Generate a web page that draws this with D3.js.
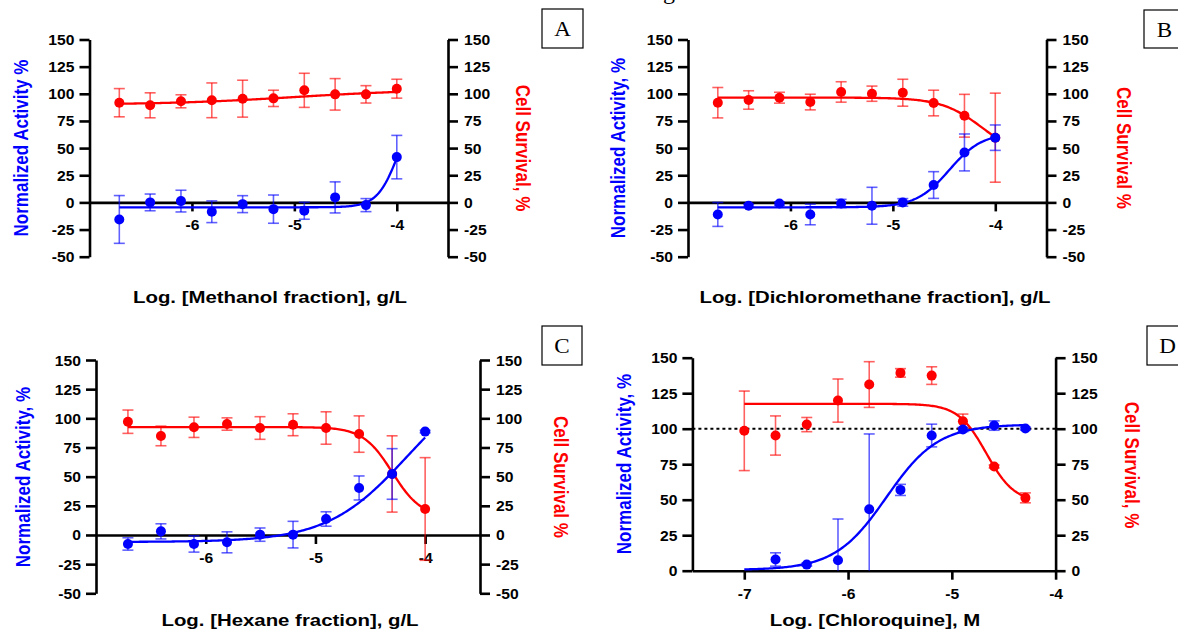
<!DOCTYPE html>
<html><head><meta charset="utf-8">
<script src="https://cdn.jsdelivr.net/npm/d3@7"></script>
<style>
body{margin:0;background:#fff;}
svg{display:block;}
</style></head><body>
<svg id="chart" width="1178" height="630"></svg>
<script>
// ---------- DATA ----------
const yTicks = [-50, -25, 0, 25, 50, 75, 100, 125, 150];
const yTicksD = [0, 25, 50, 75, 100, 125, 150];
const xTicks = [-6, -5, -4];
const xTicksD = [-7, -6, -5, -4];

// Panel A - Methanol fraction
const xA = [-6.709, -6.408, -6.107, -5.806, -5.505, -5.204, -4.903, -4.602, -4.301, -4.000];
const activityA = [-15.7, 0.0, 1.2, -8.6, -1.6, -6.2, -7.7, 4.6, -2.5, 41.7];
const activityErrA = [22, 7.7, 10, 10, 7.8, 13, 7.8, 14.3, 6, 20];
const survivalA = [91.8, 89.4, 93.1, 94.0, 95.5, 95.8, 103.2, 99.5, 99.5, 104.7];
const survivalErrA = [13, 11.5, 6, 16, 17, 7.5, 15.7, 14.5, 8, 8.7];
const fitActivityA = [-4.5, 100, -3.972, 4.11];   // bottom, top, logEC50, hill
const fitSurvivalA = [90, 104, -5.0, 0.7];

// Panel B - Dichloromethane fraction
const xB = [-6.709, -6.408, -6.107, -5.806, -5.505, -5.204, -4.903, -4.602, -4.301, -4.000];
const activityB = [-11.1, -3.1, -1.0, -11.1, -1.0, -3.1, 0.0, 16.0, 46.0, 59.6];
const activityErrB = [11, 1.5, 1.5, 9.5, 3.8, 17, 3.5, 12.3, 17, 11.7];
const survivalB = [91.8, 94.3, 96.4, 92.4, 101.7, 100.1, 101.0, 91.5, 79.8, 59.6];
const survivalErrB = [14, 8.5, 5, 7.2, 9.4, 7, 12.4, 11.8, 19.7, 41];
const fitActivityB = [-4.5, 64, -4.45, 2.7];
const fitSurvivalB = [40, 96.5, -4.12, -2.15];

// Panel C - Hexane fraction
const xC = [-6.709, -6.408, -6.107, -5.806, -5.505, -5.204, -4.903, -4.602, -4.301, -4.000];
const activityC = [-7.7, 3.1, -7.7, -6.3, 0.3, 0.3, 13.7, 40.3, 52.3, 88.6];
const activityErrC = [5.3, 6.5, 7, 9, 5.7, 11.4, 6.2, 10.3, 21.7, 1];
const survivalC = [97.1, 84.9, 92.3, 95.1, 91.7, 94.5, 91.7, 86.5, 52.3, 22.3];
const survivalErrC = [10, 8.4, 8.7, 5.3, 9.7, 9.4, 13.9, 15.6, 32.7, 44];
const fitActivityC = [-6, 140, -4.167, 1.2];
const fitSurvivalC = [15, 92.5, -4.3, -3.27];

// Panel D - Chloroquine
const xD = [-7.000, -6.699, -6.398, -6.097, -5.796, -5.495, -5.194, -4.893, -4.592, -4.291];
const activityD = [null, 7.9, 4.3, 7.4, 43.3, 56.9, 95.2, 99.4, 102.2, 100.1];
const activityErrD = [null, 4.7, 1, 29, 53, 3.9, 8, 1.5, 3.3, 1];
const survivalD = [98.5, 95.2, 102.9, 119.8, 131.1, 139.3, 137.4, 105.3, 73.4, 51.3];
const survivalErrD = [28, 13.8, 5, 15.2, 16.1, 3, 6.2, 5, 1, 3.5];
const fitActivityD = [0.5, 103, -5.63, 1.75];
const fitSurvivalD = [48, 117.5, -4.668, -3.2];
const refLineD = [100];

const letters = ["A", "B", "C", "D"];
const xTitles = ["Log. [Methanol fraction], g/L", "Log. [Dichloromethane fraction], g/L",
                 "Log. [Hexane fraction], g/L", "Log. [Chloroquine], M"];
const leftTitles = ["Normalized Activity %", "Normalized Activity, %", "Normalized Activity, %", "Normalized Activity, %"];
const rightTitles = ["Cell Survival, %", "Cell Survival %", "Cell Survival %", "Cell Survival, %"];

// ---------- DRAWING ----------
const FONT = "Arial, 'Liberation Sans', Helvetica, sans-serif";
const SERIF = "'Times New Roman', 'Liberation Serif', serif";
const SX_TICK = 1.12, SX_TITLE = 1.2;
const BLUE = "#0000ff", RED = "#ff0000";
const svg = d3.select("#chart");

function fourPL(p, x) {
  const [b, t, L, h] = p;
  return b + (t - b) / (1 + Math.pow(10, (L - x) * h));
}

function styleAxis(sel, orient) {
  sel.attr("font-family", FONT).attr("font-size", 14).attr("font-weight", "bold");
  sel.select(".domain").attr("stroke", "#000").attr("stroke-width", 2.6);
  sel.selectAll(".tick line").attr("stroke", "#000").attr("stroke-width", 2.6);
  const t = sel.selectAll(".tick text").attr("fill", "#000").attr("x", 0).attr("y", 0).attr("dy", 0);
  if (orient === "left") t.attr("transform", `translate(-15,5) scale(${SX_TICK},1)`);
  if (orient === "right") t.attr("transform", `translate(16,5) scale(${SX_TICK},1)`);
  if (orient === "bottom") t.attr("transform", `translate(0,28) scale(${SX_TICK},1)`);
}

function panel(cfg) {
  const g = svg.append("g");
  const x = d3.scaleLinear().domain(cfg.xDomain).range([cfg.x0, cfg.x1]);
  const y = d3.scaleLinear().domain(cfg.yDomain).range([cfg.yBot, cfg.yTop]);
  const fmt = d => String(d);

  // axes
  styleAxis(g.append("g").attr("transform", `translate(${cfg.x0},0)`)
    .call(d3.axisLeft(y).tickValues(cfg.yTicks).tickSize(10).tickSizeOuter(0).tickFormat(fmt)), "left");
  styleAxis(g.append("g").attr("transform", `translate(${cfg.x1},0)`)
    .call(d3.axisRight(y).tickValues(cfg.yTicks).tickSize(10).tickSizeOuter(0).tickFormat(fmt)), "right");
  const xAxisY = y(Math.max(0, cfg.yDomain[0]));
  styleAxis(g.append("g").attr("transform", `translate(0,${xAxisY})`)
    .call(d3.axisBottom(x).tickValues(cfg.xTicks).tickSize(9).tickSizeOuter(0).tickFormat(fmt)), "bottom");

  // reference line
  (cfg.refLine || []).forEach(v => {
    g.append("line").attr("x1", cfg.x0).attr("x2", cfg.x1).attr("y1", y(v)).attr("y2", y(v))
      .attr("stroke", "#000").attr("stroke-width", 2).attr("stroke-dasharray", "3,3");
  });

  const [ymin, ymax] = cfg.yDomain;
  const xStart = cfg.xs[0], xEnd = cfg.xs[cfg.xs.length - 1];
  const samples = d3.range(201).map(i => xStart + (xEnd - xStart) * i / 200);
  const line = d3.line().x(d => x(d[0])).y(d => y(d[1])).curve(d3.curveLinear);

  function series(vals, errs, fit, color) {
    const eg = g.append("g").attr("stroke", color).attr("stroke-opacity", 0.62).attr("stroke-width", 1.6);
    vals.forEach((v, i) => {
      if (v == null) return;
      const e = errs[i];
      const hi = v + e, lo = v - e;
      const cx = x(cfg.xs[i]);
      eg.append("line").attr("x1", cx).attr("x2", cx)
        .attr("y1", y(Math.min(hi, ymax))).attr("y2", y(Math.max(lo, ymin)));
      if (hi <= ymax) eg.append("line").attr("x1", cx - 5.5).attr("x2", cx + 5.5).attr("y1", y(hi)).attr("y2", y(hi));
      if (lo >= ymin) eg.append("line").attr("x1", cx - 5.5).attr("x2", cx + 5.5).attr("y1", y(lo)).attr("y2", y(lo));
    });
    return { vals, fit, color };
  }
  function curveAndPoints(s) {
    g.append("path").datum(samples.map(xx => [xx, fourPL(s.fit, xx)]))
      .attr("d", line).attr("fill", "none").attr("stroke", s.color).attr("stroke-width", 2.3);
    g.append("g").selectAll("circle").data(s.vals.map((v, i) => [cfg.xs[i], v]).filter(d => d[1] != null))
      .join("circle").attr("cx", d => x(d[0])).attr("cy", d => y(d[1])).attr("r", 5).attr("fill", s.color);
  }
  const sRed = series(cfg.surv, cfg.survErr, cfg.survFit, RED);
  const sBlue = series(cfg.act, cfg.actErr, cfg.actFit, BLUE);
  curveAndPoints(sRed);
  curveAndPoints(sBlue);

  // titles
  g.append("text").attr("transform", `translate(${cfg.xt[0]},${cfg.xt[1]}) scale(${SX_TITLE},1)`)
    .attr("text-anchor", "middle").attr("dy", "0.35em").attr("font-family", FONT)
    .attr("font-weight", "bold").attr("font-size", 17).attr("fill", "#000").text(cfg.xTitle);
  g.append("text").attr("transform", `translate(${cfg.lt[0]},${cfg.lt[1]}) scale(${SX_TITLE},1) rotate(-90)`)
    .attr("text-anchor", "middle").attr("dy", "0.35em").attr("font-family", FONT)
    .attr("font-weight", "bold").attr("font-size", 17).attr("fill", BLUE).text(cfg.leftTitle);
  g.append("text").attr("transform", `translate(${cfg.rt[0]},${cfg.rt[1]}) scale(${SX_TITLE},1) rotate(90)`)
    .attr("text-anchor", "middle").attr("dy", "0.35em").attr("font-family", FONT)
    .attr("font-weight", "bold").attr("font-size", 17).attr("fill", RED).text(cfg.rightTitle);

  // letter box
  const [bx, by, bw, bh] = cfg.box;
  g.append("rect").attr("x", bx).attr("y", by).attr("width", bw).attr("height", bh)
    .attr("fill", "#fff").attr("stroke", "#000").attr("stroke-width", 1.2);
  g.append("text").attr("transform", `translate(${bx + bw / 2},${by + bh / 2 + 7.5}) scale(1.1,1)`)
    .attr("text-anchor", "middle").attr("font-family", SERIF).attr("font-size", 21)
    .attr("fill", "#000").text(cfg.letter);
}

panel({ xDomain: [-7, -3.5], yDomain: [-50, 150], x0: 89.5, x1: 448, yTop: 39.5, yBot: 256.7,
  yTicks: yTicks, xTicks: xTicks, xs: xA, act: activityA, actErr: activityErrA, actFit: fitActivityA,
  surv: survivalA, survErr: survivalErrA, survFit: fitSurvivalA,
  xTitle: xTitles[0], leftTitle: leftTitles[0], rightTitle: rightTitles[0], letter: letters[0],
  xt: [270, 297], lt: [21, 148], rt: [523, 148], box: [542, 9, 41, 39] });

panel({ xDomain: [-7, -3.5], yDomain: [-50, 150], x0: 688, x1: 1046.5, yTop: 39.5, yBot: 256.7,
  yTicks: yTicks, xTicks: xTicks, xs: xB, act: activityB, actErr: activityErrB, actFit: fitActivityB,
  surv: survivalB, survErr: survivalErrB, survFit: fitSurvivalB,
  xTitle: xTitles[1], leftTitle: leftTitles[1], rightTitle: rightTitles[1], letter: letters[1],
  xt: [875, 297], lt: [618, 148], rt: [1124, 148], box: [1144, 10, 41, 38] });

panel({ xDomain: [-7, -3.5], yDomain: [-50, 150], x0: 96, x1: 480, yTop: 360, yBot: 593.3,
  yTicks: yTicks, xTicks: xTicks, xs: xC, act: activityC, actErr: activityErrC, actFit: fitActivityC,
  surv: survivalC, survErr: survivalErrC, survFit: fitSurvivalC,
  xTitle: xTitles[2], leftTitle: leftTitles[2], rightTitle: rightTitles[2], letter: letters[2],
  xt: [290, 620], lt: [23, 477], rt: [561, 477], box: [542, 326, 40, 39] });

panel({ xDomain: [-7.5, -4], yDomain: [0, 150], x0: 692.4, x1: 1055.6, yTop: 357.7, yBot: 570.7,
  yTicks: yTicksD, xTicks: xTicksD, xs: xD, act: activityD, actErr: activityErrD, actFit: fitActivityD,
  surv: survivalD, survErr: survivalErrD, survFit: fitSurvivalD, refLine: refLineD,
  xTitle: xTitles[3], leftTitle: leftTitles[3], rightTitle: rightTitles[3], letter: letters[3],
  xt: [875, 620], lt: [624, 464], rt: [1132, 465], box: [1147, 326, 41, 39] });

// clipped fragment of the figure caption at the very top
svg.append("text").attr("x", 663).attr("y", -1).attr("font-family", SERIF).attr("font-size", 24)
  .attr("fill", "#000").text("g");
</script>
</body></html>
